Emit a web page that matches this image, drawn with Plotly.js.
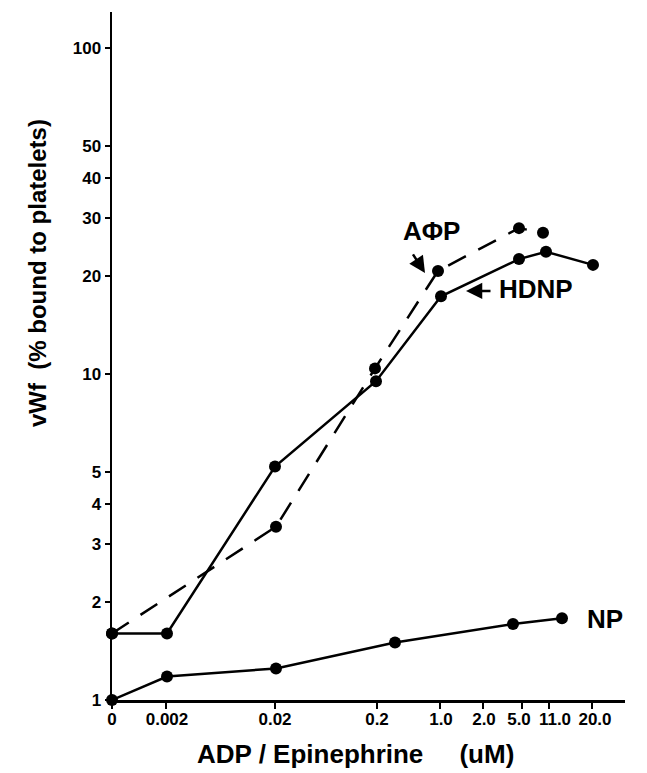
<!DOCTYPE html>
<html>
<head>
<meta charset="utf-8">
<script src="https://cdn.plot.ly/plotly-3.0.1.min.js"></script>
<style>html,body{margin:0;padding:0;background:#fff;}#chart{width:647px;height:773px;}</style>
</head>
<body>
<div id="chart"></div>
<script>
// x axis is drawn on a non-uniform scale: positions along the axis (axis units)
const xTickPos = [0, 54, 163, 265, 328, 371, 410, 437, 480];
const xLabelPos = [0, 55, 163, 265, 329, 372, 407, 443, 483];
const xTickText = ['0', '0.002', '0.02', '0.2', '1.0', '2.0', '5.0', '11.0', '20.0'];
const yTickVals = [1, 2, 3, 4, 5, 10, 20, 30, 40, 50, 100];
const yTickText = ['1', '2', '3', '4', '5', '10', '20', '30', '40', '50', '100'];

// HDNP (solid)
const hdnpX = [0, 55, 163, 264, 329, 407, 434, 481];
const hdnpY = [1.6, 1.6, 5.2, 9.5, 17.3, 22.5, 23.7, 21.6];
// ADP (dashed)
const adpX = [0, 164, 263, 326, 407, 431];
const adpY = [1.6, 3.4, 10.4, 20.7, 28.0, 27.1];
// NP (solid)
const npX = [0, 55, 164, 283, 401, 450];
const npY = [1.0, 1.18, 1.25, 1.5, 1.71, 1.78];

const FONT = 'Liberation Sans, Arial, sans-serif';
const mk = {color: '#000', size: 12};

const traces = [
  {x: hdnpX, y: hdnpY, mode: 'lines+markers', line: {color: '#000', width: 2.5}, marker: mk, cliponaxis: false, name: 'HDNP'},
  {x: adpX, y: adpY, mode: 'lines+markers', line: {color: '#000', width: 2.5, dash: '20px,14px'}, marker: mk, cliponaxis: false, name: 'ADP'},
  {x: npX, y: npY, mode: 'lines+markers', line: {color: '#000', width: 2.5}, marker: mk, cliponaxis: false, name: 'NP'},
  // invisible helper trace so the label axis is drawn
  {x: [0], y: [1], xaxis: 'x2', yaxis: 'y', mode: 'markers', marker: {opacity: 0}, hoverinfo: 'skip', showlegend: false}
];

const txtFont = {family: FONT, size: 26, color: '#000', weight: 'bold'};

const layout = {
  width: 647, height: 773,
  margin: {l: 112, r: 22, t: 12, b: 73, pad: 0},
  paper_bgcolor: '#fff', plot_bgcolor: '#fff',
  showlegend: false,
  font: {family: FONT, color: '#000'},
  xaxis: {
    range: [0, 513], showline: true, linecolor: '#000', linewidth: 2.5,
    ticks: 'outside', ticklen: 6, tickwidth: 2, tickcolor: '#000',
    tickvals: xTickPos, showticklabels: false, showgrid: false, zeroline: false
  },
  xaxis2: {
    overlaying: 'x', anchor: 'y', side: 'bottom', range: [0, 513],
    showline: false, ticks: '', showgrid: false, zeroline: false, tickangle: 0,
    tickvals: xLabelPos, ticktext: xTickText, ticklabelstandoff: 7,
    tickfont: {family: FONT, size: 17, color: '#000', weight: 'bold'}
  },
  yaxis: {
    type: 'log', range: [0, 2.11], showline: true, linecolor: '#000', linewidth: 2.5,
    ticks: 'outside', ticklen: 5, tickwidth: 2, tickcolor: '#000',
    tickvals: yTickVals, ticktext: yTickText, showgrid: false, zeroline: false,
    tickfont: {family: FONT, size: 17, color: '#000', weight: 'bold'}
  },
  annotations: [
    {xref: 'paper', yref: 'paper', x: -0.145, y: 0.62, text: 'vWf\u00a0\u00a0(% bound to platelets)', textangle: -90,
     showarrow: false, font: {family: FONT, size: 24, color: '#000', weight: 'bold'}, xanchor: 'center', yanchor: 'middle'},
    {xref: 'paper', yref: 'paper', x: 0.475, y: -0.078, text: 'ADP / Epinephrine\u00a0\u00a0\u00a0\u00a0\u00a0(uM)',
     showarrow: false, font: {family: FONT, size: 26, color: '#000', weight: 'bold'}, xanchor: 'center', yanchor: 'middle'},
    {x: 319, y: 1.4387, text: 'A\u03A6P', showarrow: false, font: txtFont, xanchor: 'center', yanchor: 'middle'},
    {x: 313, y: 1.3098, text: '', showarrow: true, ax: -13, ay: -20, arrowhead: 2, arrowsize: 1.3, arrowwidth: 2.5, arrowcolor: '#000'},
    {x: 424, y: 1.2607, text: 'HDNP', showarrow: false, font: txtFont, xanchor: 'center', yanchor: 'middle'},
    {x: 354, y: 1.2546, text: '', showarrow: true, ax: 26, ay: 0, arrowhead: 2, arrowsize: 1.3, arrowwidth: 2.5, arrowcolor: '#000'},
    {x: 493, y: 0.2485, text: 'NP', showarrow: false, font: txtFont, xanchor: 'center', yanchor: 'middle'}
  ]
};

Plotly.newPlot('chart', traces, layout, {displayModeBar: false, staticPlot: true});
</script>
</body>
</html>
